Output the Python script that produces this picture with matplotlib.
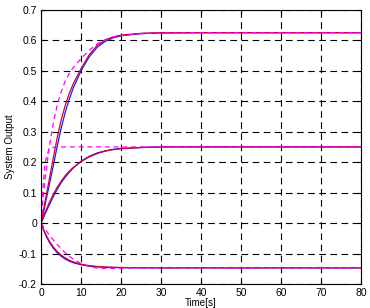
import matplotlib
matplotlib.use("Agg")
import matplotlib.pyplot as plt

plt.rcParams["font.family"] = ["Liberation Sans", "DejaVu Sans"]
plt.rcParams["axes.unicode_minus"] = False

# time samples [s]
t = [0, 0.5, 1, 2, 3, 4, 5, 6, 7, 8, 10, 12, 14, 16, 18, 20, 25, 30, 40, 80]

# upper group (settles at ~0.625)
top_blue = [0, 0.03, 0.06, 0.122, 0.185, 0.25, 0.31, 0.362, 0.405, 0.442,
            0.50, 0.545, 0.577, 0.596, 0.608, 0.615, 0.622, 0.624, 0.625, 0.625]
top_red = [0, 0.035, 0.07, 0.14, 0.21, 0.278, 0.337, 0.385, 0.424, 0.456,
           0.507, 0.552, 0.583, 0.601, 0.611, 0.617, 0.623, 0.625, 0.625, 0.625]
top_mag = [0, 0.08, 0.145, 0.245, 0.325, 0.385, 0.43, 0.465, 0.49, 0.51,
           0.54, 0.567, 0.588, 0.602, 0.611, 0.616, 0.622, 0.624, 0.625, 0.625]

# middle group (settles at 0.25)
mid_blue = [0, 0.015, 0.030, 0.058, 0.085, 0.110, 0.132, 0.150, 0.166, 0.180,
            0.203, 0.219, 0.230, 0.237, 0.242, 0.245, 0.248, 0.25, 0.25, 0.25]
mid_red = [0, 0.018, 0.035, 0.066, 0.093, 0.117, 0.137, 0.155, 0.170, 0.182,
           0.202, 0.217, 0.228, 0.236, 0.241, 0.244, 0.248, 0.25, 0.25, 0.25]
mid_mag = [0, 0.12, 0.20, 0.245, 0.248, 0.25, 0.25, 0.25, 0.25, 0.25,
           0.25, 0.25, 0.25, 0.25, 0.25, 0.25, 0.25, 0.25, 0.25, 0.25]

# lower group (settles at ~-0.147)
bot_blue = [0, -0.0186, -0.0348, -0.0613, -0.0816, -0.097, -0.109, -0.118, -0.1248, -0.130,
            -0.137, -0.1413, -0.1437, -0.145, -0.1458, -0.1463, -0.1468, -0.147, -0.147, -0.147]
bot_red = [0, -0.0173, -0.0325, -0.0578, -0.0776, -0.093, -0.105, -0.114, -0.1217, -0.127,
           -0.135, -0.1397, -0.1426, -0.1443, -0.1454, -0.146, -0.1467, -0.147, -0.147, -0.147]
bot_mag = [0, -0.010, -0.020, -0.038, -0.055, -0.070, -0.084, -0.097, -0.108, -0.118,
           -0.133, -0.143, -0.148, -0.149, -0.149, -0.148, -0.147, -0.147, -0.147, -0.147]

fig = plt.figure(figsize=(3.7, 3.08), dpi=100)
ax = fig.add_axes([0.111, 0.078, 0.865, 0.89])

for blue, red, mag in [(top_blue, top_red, top_mag),
                       (mid_blue, mid_red, mid_mag),
                       (bot_blue, bot_red, bot_mag)]:
    ax.plot(t, blue, color="#1a1aff", lw=0.9)
    ax.plot(t, red, color="#cc0033", lw=0.9)
    ax.plot(t, mag, color="#ff00ff", lw=0.9, ls=(0, (4, 3)))

ax.set_xlim(0, 80)
ax.set_ylim(-0.2, 0.7)
ax.set_xticks(range(0, 81, 10))
ax.set_yticks([-0.2, -0.1, 0, 0.1, 0.2, 0.3, 0.4, 0.5, 0.6, 0.7])
ax.set_yticklabels(["-0.2", "-0.1", "0", "0.1", "0.2", "0.3", "0.4", "0.5", "0.6", "0.7"])
ax.grid(True, color="black", ls=(0, (6, 4)), lw=0.8)
ax.tick_params(direction="in", top=True, right=True, labelsize=7.5, length=3, pad=3)
for s in ax.spines.values():
    s.set_linewidth(0.8)

ax.set_xlabel("Time[s]", fontsize=7, labelpad=0)
ax.set_ylabel("System Output", fontsize=7, labelpad=3)

fig.savefig("out.png", dpi=100)
